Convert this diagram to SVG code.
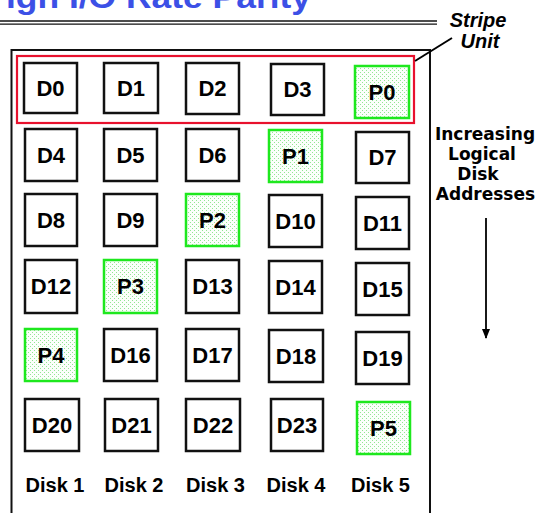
<svg xmlns="http://www.w3.org/2000/svg" width="540" height="513" viewBox="0 0 540 513">
<defs>
<pattern id="dots" width="4" height="4" patternUnits="userSpaceOnUse">
<rect width="4" height="4" fill="#fbfffb"/>
<rect x="0" y="0" width="1" height="1" fill="#93e693"/>
<rect x="2" y="2" width="1" height="1" fill="#93e693"/>
</pattern>
<marker id="ah" markerWidth="10" markerHeight="8" refX="9" refY="4" orient="auto" markerUnits="userSpaceOnUse" viewBox="0 0 10 8">
<path d="M0,0 L10,4 L0,8 Z" fill="#000"/>
</marker>
</defs>
<style>
.box{fill:#fff;stroke:#111;stroke-width:2.5}
.par{fill:url(#dots);stroke:#1ee81e;stroke-width:2.5}
.lbl{font-family:"Liberation Sans",Arial,sans-serif;font-weight:bold;font-size:22px;fill:#000;text-anchor:middle}
.disk{font-family:"Liberation Sans",Arial,sans-serif;font-weight:bold;font-size:20px;fill:#000;text-anchor:middle}
.side{font-family:"DejaVu Sans",sans-serif;font-weight:bold;font-size:17px;fill:#000;text-anchor:middle}
.stripe{font-family:"Liberation Sans",Arial,sans-serif;font-weight:bold;font-style:italic;font-size:20px;fill:#000;text-anchor:middle}
.title{font-family:"Liberation Sans",Arial,sans-serif;font-weight:bold;font-size:32px;fill:#3c50e6}
.conn{stroke:#000;fill:none}
</style>
<rect width="540" height="513" fill="#fff"/>
<g id="title">
<text class="title" x="6" y="8" textLength="305" lengthAdjust="spacingAndGlyphs">igh I/O Rate Parity</text>
<line x1="0" y1="21" x2="437" y2="21" stroke="#111" stroke-width="1.3"/>
<line x1="0" y1="24.2" x2="437" y2="24.2" stroke="#111" stroke-width="1.3"/>
</g>
<g id="frame">
<rect x="11.5" y="50" width="418.5" height="480" fill="none" stroke="#111" stroke-width="2"/>
</g>
<g id="stripe-unit">
<rect x="17" y="56" width="397" height="67" fill="none" stroke="#e8112d" stroke-width="2.2"/>
<text class="stripe" x="478" y="27">Stripe</text>
<text class="stripe" x="480" y="48">Unit</text>
</g>
<g id="n-D0"><rect class="box" x="24" y="63" width="53" height="50"/><text class="lbl" x="50.5" y="95.5">D0</text></g>
<g id="n-D1"><rect class="box" x="104" y="63" width="54" height="50"/><text class="lbl" x="131" y="95.5">D1</text></g>
<g id="n-D2"><rect class="box" x="186" y="63" width="53" height="51"/><text class="lbl" x="212.5" y="96">D2</text></g>
<g id="n-D3"><rect class="box" x="271" y="64" width="53" height="51"/><text class="lbl" x="297.5" y="97">D3</text></g>
<g id="n-P0"><rect class="par" x="355" y="66" width="54" height="52"/><text class="lbl" x="382" y="99.5">P0</text></g>

<g id="n-D4"><rect class="box" x="25" y="129" width="52" height="52"/><text class="lbl" x="51" y="162.5">D4</text></g>
<g id="n-D5"><rect class="box" x="104" y="129" width="53" height="52"/><text class="lbl" x="130.5" y="162.5">D5</text></g>
<g id="n-D6"><rect class="box" x="186" y="129" width="53" height="52"/><text class="lbl" x="212.5" y="162.5">D6</text></g>
<g id="n-P1"><rect class="par" x="269" y="130" width="53" height="52"/><text class="lbl" x="295.5" y="163.5">P1</text></g>
<g id="n-D7"><rect class="box" x="356" y="132" width="53" height="51"/><text class="lbl" x="382.5" y="165">D7</text></g>

<g id="n-D8"><rect class="box" x="25" y="194" width="52" height="52"/><text class="lbl" x="51" y="227.5">D8</text></g>
<g id="n-D9"><rect class="box" x="104" y="194" width="53" height="52"/><text class="lbl" x="130.5" y="227.5">D9</text></g>
<g id="n-P2"><rect class="par" x="186" y="194" width="53" height="52"/><text class="lbl" x="212.5" y="227.5">P2</text></g>
<g id="n-D10"><rect class="box" x="269" y="195" width="53" height="52"/><text class="lbl" x="295.5" y="228.5">D10</text></g>
<g id="n-D11"><rect class="box" x="356" y="197" width="53" height="52"/><text class="lbl" x="382.5" y="230.5">D11</text></g>

<g id="n-D12"><rect class="box" x="25" y="260" width="52" height="53"/><text class="lbl" x="51" y="294">D12</text></g>
<g id="n-P3"><rect class="par" x="104" y="260" width="53" height="53"/><text class="lbl" x="130.5" y="294">P3</text></g>
<g id="n-D13"><rect class="box" x="186" y="260" width="53" height="53"/><text class="lbl" x="212.5" y="294">D13</text></g>
<g id="n-D14"><rect class="box" x="269" y="261" width="53" height="52"/><text class="lbl" x="295.5" y="294.5">D14</text></g>
<g id="n-D15"><rect class="box" x="356" y="263" width="53" height="52"/><text class="lbl" x="382.5" y="296.5">D15</text></g>

<g id="n-P4"><rect class="par" x="25" y="329" width="52" height="52"/><text class="lbl" x="51" y="362.5">P4</text></g>
<g id="n-D16"><rect class="box" x="104" y="329" width="53" height="52"/><text class="lbl" x="130.5" y="362.5">D16</text></g>
<g id="n-D17"><rect class="box" x="186" y="329" width="53" height="52"/><text class="lbl" x="212.5" y="362.5">D17</text></g>
<g id="n-D18"><rect class="box" x="269" y="330" width="54" height="52"/><text class="lbl" x="296" y="363.5">D18</text></g>
<g id="n-D19"><rect class="box" x="356" y="332" width="53" height="52"/><text class="lbl" x="382.5" y="365.5">D19</text></g>

<g id="n-D20"><rect class="box" x="25" y="399" width="54" height="52"/><text class="lbl" x="52" y="432.5">D20</text></g>
<g id="n-D21"><rect class="box" x="105" y="399" width="53" height="52"/><text class="lbl" x="131.5" y="432.5">D21</text></g>
<g id="n-D22"><rect class="box" x="186" y="399" width="54" height="52"/><text class="lbl" x="213" y="432.5">D22</text></g>
<g id="n-D23"><rect class="box" x="271" y="399" width="52" height="52"/><text class="lbl" x="297" y="432.5">D23</text></g>
<g id="n-P5"><rect class="par" x="357" y="402" width="53" height="52"/><text class="lbl" x="383.5" y="435.5">P5</text></g>

<g id="disk-labels">
<text class="disk" x="55" y="492">Disk 1</text>
<text class="disk" x="134" y="492">Disk 2</text>
<text class="disk" x="215.5" y="492">Disk 3</text>
<text class="disk" x="296" y="492">Disk 4</text>
<text class="disk" x="380.5" y="492">Disk 5</text>
</g>
<g id="address-label">
<text class="side" x="485" y="140">Increasing</text>
<text class="side" x="482" y="160">Logical</text>
<text class="side" x="478" y="180">Disk</text>
<text class="side" x="485.5" y="200">Addresses</text>
</g>
<g id="connectors">
<path class="conn" d="M415,61 L452,38" stroke-width="2"/>
<path class="conn" d="M486,218 L486,338" stroke-width="1.8" marker-end="url(#ah)"/>
</g>
</svg>
